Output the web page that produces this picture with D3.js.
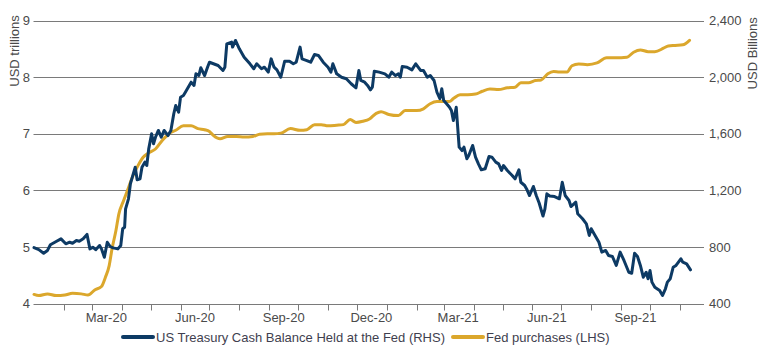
<!DOCTYPE html>
<html>
<head>
<meta charset="utf-8">
<script src="https://cdn.jsdelivr.net/npm/d3@7"></script>
<style>
  html, body { margin: 0; padding: 0; background: #fff; }
  svg text { font-family: "Liberation Sans", Arial, sans-serif; }
</style>
</head>
<body>
<svg id="chart" width="770" height="355"></svg>
<script>
// ---- Data ----
// US Treasury Cash Balance Held at the Fed (RHS, USD billions)
const tgaDates = [
  "2020-01-01","2020-01-06","2020-01-11","2020-01-15","2020-01-18","2020-01-24","2020-01-29",
  "2020-02-03","2020-02-07","2020-02-10","2020-02-14","2020-02-17","2020-02-21","2020-02-25","2020-02-28",
  "2020-03-02","2020-03-05","2020-03-09","2020-03-11","2020-03-14","2020-03-17","2020-03-20","2020-03-23","2020-03-28","2020-03-31",
  "2020-04-02","2020-04-04","2020-04-05","2020-04-08","2020-04-10","2020-04-12","2020-04-15","2020-04-17","2020-04-20","2020-04-22","2020-04-25","2020-04-27","2020-04-29",
  "2020-05-02","2020-05-04","2020-05-06","2020-05-09","2020-05-12","2020-05-15","2020-05-19","2020-05-22","2020-05-25","2020-05-27","2020-05-30",
  "2020-06-01","2020-06-04","2020-06-06","2020-06-09","2020-06-12","2020-06-15","2020-06-17","2020-06-20","2020-06-22","2020-06-26","2020-06-29",
  "2020-07-01","2020-07-10","2020-07-15","2020-07-17","2020-07-19","2020-07-24","2020-07-25","2020-07-28",
  "2020-08-01","2020-08-06","2020-08-12","2020-08-16","2020-08-19","2020-08-24","2020-08-27","2020-08-31",
  "2020-09-03","2020-09-06","2020-09-09","2020-09-13","2020-09-17","2020-09-22","2020-09-26","2020-09-29",
  "2020-10-03","2020-10-05","2020-10-10","2020-10-14","2020-10-18","2020-10-22","2020-10-27",
  "2020-11-01","2020-11-04","2020-11-06","2020-11-10","2020-11-15","2020-11-20","2020-11-25","2020-11-30",
  "2020-12-03","2020-12-05","2020-12-09","2020-12-12","2020-12-15","2020-12-17","2020-12-19","2020-12-24","2020-12-30",
  "2021-01-03","2021-01-06","2021-01-10","2021-01-13","2021-01-15","2021-01-17","2021-01-22","2021-01-27","2021-01-31",
  "2021-02-05","2021-02-08","2021-02-12","2021-02-15","2021-02-19","2021-02-22","2021-02-25","2021-02-27",
  "2021-03-01","2021-03-04","2021-03-07","2021-03-09","2021-03-11","2021-03-13","2021-03-14","2021-03-15","2021-03-17","2021-03-20","2021-03-22","2021-03-25","2021-03-27","2021-03-31",
  "2021-04-03","2021-04-06","2021-04-09","2021-04-13","2021-04-17","2021-04-20","2021-04-24","2021-04-27","2021-04-30",
  "2021-05-02","2021-05-06","2021-05-11","2021-05-14","2021-05-18","2021-05-20","2021-05-24","2021-05-26","2021-05-29",
  "2021-06-02","2021-06-05","2021-06-08","2021-06-12","2021-06-14","2021-06-16","2021-06-19","2021-06-24","2021-06-29",
  "2021-07-02","2021-07-05","2021-07-09","2021-07-11","2021-07-16","2021-07-18","2021-07-23","2021-07-27","2021-07-30",
  "2021-08-01","2021-08-05","2021-08-09","2021-08-12","2021-08-16","2021-08-19","2021-08-23","2021-08-27","2021-08-31",
  "2021-09-04","2021-09-09","2021-09-12","2021-09-15","2021-09-18","2021-09-21","2021-09-24","2021-09-27","2021-09-29",
  "2021-10-01","2021-10-03","2021-10-06","2021-10-11","2021-10-14","2021-10-17","2021-10-19","2021-10-22","2021-10-25","2021-10-28",
  "2021-11-02","2021-11-04","2021-11-08","2021-11-12"
];
const tgaValues = [
  795,781,755,775,815,838,857,
  822,833,826,845,840,857,888,786,
  798,780,810,786,727,833,803,793,786,810,
  928,939,1069,1140,1246,1293,1363,1274,1281,1363,1399,1375,1493,
  1599,1529,1575,1623,1575,1623,1587,1623,1741,1799,1752,
  1858,1870,1893,1929,1964,1941,2023,2011,2066,2011,2070,
  2105,2082,2047,2070,2235,2247,2212,2259,
  2200,2141,2094,2059,2094,2059,2070,2035,
  2129,2070,2051,1999,2112,2112,2094,2105,
  2212,2129,2117,2105,2160,2153,2105,
  2070,2035,2094,2023,1999,1988,1953,1924,
  2047,1976,1964,1941,1910,1929,2042,2035,2023,
  1999,2035,2011,2023,1999,2075,2070,2051,2094,
  2047,2047,1999,2011,1976,1893,1847,1917,
  1835,1811,1787,1764,1693,1752,1787,1693,1505,1481,1505,1423,1446,1517,
  1434,1387,1345,1352,1439,1434,1399,1387,1340,
  1375,1340,1305,1281,1345,1257,1234,1210,1163,
  1227,1163,1110,1018,1069,1175,1160,1156,1140,
  1257,1163,1128,1085,1116,1034,999,963,881,
  928,881,833,763,775,739,732,669,763,
  704,621,614,755,732,669,586,621,575,
  633,551,515,492,457,504,551,575,656,669,
  716,692,680,638
];

// Fed purchases (LHS, USD trillions)
const fedDates = [
  "2020-01-01","2020-01-06","2020-01-15","2020-01-24","2020-02-02","2020-02-10","2020-02-19","2020-02-26",
  "2020-03-04","2020-03-11","2020-03-15","2020-03-19","2020-03-22","2020-03-26","2020-03-29",
  "2020-04-03","2020-04-07","2020-04-12","2020-04-18","2020-04-23","2020-04-29",
  "2020-05-06","2020-05-13","2020-05-20","2020-05-27","2020-06-04","2020-06-12","2020-06-19","2020-06-26",
  "2020-07-01","2020-07-05","2020-07-12","2020-07-20","2020-07-29","2020-08-06","2020-08-15","2020-08-22","2020-08-30",
  "2020-09-06","2020-09-13","2020-09-23","2020-10-03","2020-10-10","2020-10-18","2020-10-25",
  "2020-11-01","2020-11-10","2020-11-17","2020-11-24","2020-11-30","2020-12-07","2020-12-14","2020-12-21","2020-12-26",
  "2021-01-03","2021-01-13","2021-01-20","2021-02-01","2021-02-08","2021-02-15","2021-02-22",
  "2021-03-01","2021-03-07","2021-03-11","2021-03-18","2021-03-26","2021-04-03","2021-04-10","2021-04-18","2021-04-27",
  "2021-05-06","2021-05-14","2021-05-20","2021-05-28","2021-06-04","2021-06-10","2021-06-17","2021-06-23","2021-06-29",
  "2021-07-07","2021-07-12","2021-07-19","2021-07-28","2021-08-07","2021-08-17","2021-08-26",
  "2021-09-07","2021-09-14","2021-09-21","2021-09-29","2021-10-06","2021-10-15","2021-10-20","2021-10-27",
  "2021-11-04","2021-11-11"
];
const fedValues = [
  4.16,4.14,4.17,4.14,4.15,4.18,4.17,4.15,
  4.24,4.30,4.46,4.67,4.97,5.29,5.58,
  5.82,6.00,6.23,6.44,6.58,6.66,
  6.73,6.88,7.00,7.06,7.14,7.14,7.09,7.07,
  7.04,6.97,6.91,6.95,6.95,6.94,6.95,6.99,7.00,
  7.00,7.01,7.09,7.06,7.07,7.16,7.16,
  7.14,7.15,7.16,7.25,7.20,7.22,7.26,7.36,7.39,
  7.34,7.32,7.41,7.41,7.44,7.53,7.57,
  7.57,7.57,7.62,7.69,7.69,7.70,7.75,7.79,7.78,
  7.81,7.82,7.90,7.90,7.94,7.95,8.06,8.10,8.09,
  8.09,8.20,8.23,8.22,8.25,8.34,8.34,
  8.35,8.44,8.48,8.45,8.45,8.51,8.55,8.56,
  8.57,8.65
];

const leftTicks = [4, 5, 6, 7, 8, 9];
const rightTicks = [400, 800, 1200, 1600, 2000, 2400];
const xLabelDates = ["2020-03-16", "2020-06-16", "2020-09-16", "2020-12-16", "2021-03-16", "2021-06-16", "2021-09-16"];
const xLabelTexts = ["Mar-20", "Jun-20", "Sep-20", "Dec-20", "Mar-21", "Jun-21", "Sep-21"];
const seriesNames = ["US Treasury Cash Balance Held at the Fed (RHS)", "Fed purchases (LHS)"];
const leftTitle = "USD trillions";
const rightTitle = "USD Billions";

// ---- Drawing ----
(function () {
const parse = d3.utcParse("%Y-%m-%d");
const BLUE = "#0d3a64";
const GOLD = "#dba72c";
const GRID = "#7a7a7a";
const TXT = "#4a4a4a";

const svg = d3.select("#chart");
const plotL = 34, plotR = 704, plotT = 20.5, plotB = 303.5;

const x = d3.scaleUtc()
  .domain([parse("2020-01-01"), parse("2021-11-26")])
  .range([plotL, plotR]);
const yL = d3.scaleLinear().domain([4, 9]).range([plotB, plotT]);
const yR = d3.scaleLinear().domain([400, 2400]).range([plotB, plotT]);

// gridlines
svg.append("g").selectAll("line").data(leftTicks).join("line")
  .attr("x1", plotL - 0.5).attr("x2", plotR)
  .attr("y1", d => Math.round(yL(d)) + 0.5).attr("y2", d => Math.round(yL(d)) + 0.5)
  .attr("stroke", GRID).attr("stroke-width", 1);

// month ticks on bottom axis
const months = d3.utcMonth.range(parse("2020-02-01"), parse("2021-11-02"));
svg.append("g").selectAll("line").data(months).join("line")
  .attr("x1", d => Math.round(x(d)) + 0.5).attr("x2", d => Math.round(x(d)) + 0.5)
  .attr("y1", Math.round(plotB) + 0.5).attr("y2", Math.round(plotB) + 6.5)
  .attr("stroke", GRID).attr("stroke-width", 1);

// x labels
svg.append("g").selectAll("text").data(xLabelDates).join("text")
  .attr("x", d => x(parse(d)))
  .attr("y", 322)
  .attr("text-anchor", "middle")
  .attr("font-size", 13)
  .attr("fill", TXT)
  .text((d, i) => xLabelTexts[i]);

// left labels
svg.append("g").selectAll("text").data(leftTicks).join("text")
  .attr("x", 30).attr("y", d => yL(d))
  .attr("dy", "0.36em")
  .attr("text-anchor", "end")
  .attr("font-size", 13).attr("fill", TXT)
  .text(d => d);

// right labels
const fmt = d3.format(",");
svg.append("g").selectAll("text").data(rightTicks).join("text")
  .attr("x", 709).attr("y", d => yR(d))
  .attr("dy", "0.36em")
  .attr("text-anchor", "start")
  .attr("font-size", 13).attr("fill", TXT)
  .text(d => fmt(d));

// axis titles
svg.append("text")
  .attr("transform", "translate(19.3,51) rotate(-90)")
  .attr("text-anchor", "middle")
  .attr("font-size", 13).attr("fill", TXT)
  .text(leftTitle);
svg.append("text")
  .attr("transform", "translate(757,53.3) rotate(-90)")
  .attr("text-anchor", "middle")
  .attr("font-size", 13).attr("fill", TXT)
  .text(rightTitle);

// lines
const fedData = fedDates.map((d, i) => ({ date: parse(d), v: fedValues[i] }));
const tgaData = tgaDates.map((d, i) => ({ date: parse(d), v: tgaValues[i] }));

svg.append("path").datum(fedData)
  .attr("fill", "none").attr("stroke", GOLD).attr("stroke-width", 3)
  .attr("stroke-linejoin", "round").attr("stroke-linecap", "round")
  .attr("d", d3.line().x(d => x(d.date)).y(d => yL(d.v)).curve(d3.curveMonotoneX));

svg.append("path").datum(tgaData)
  .attr("fill", "none").attr("stroke", BLUE).attr("stroke-width", 3)
  .attr("stroke-linejoin", "round").attr("stroke-linecap", "round")
  .attr("d", d3.line().x(d => x(d.date)).y(d => yR(d.v)));

// legend
const legend = svg.append("g");
const legItems = [
  { name: seriesNames[0], color: BLUE, x0: 123, x1: 153, tx: 156 },
  { name: seriesNames[1], color: GOLD, x0: 453, x1: 483, tx: 486 }
];
legItems.forEach(it => {
  legend.append("line")
    .attr("x1", it.x0).attr("x2", it.x1).attr("y1", 337).attr("y2", 337)
    .attr("stroke", it.color).attr("stroke-width", 4).attr("stroke-linecap", "round");
  legend.append("text")
    .attr("x", it.tx).attr("y", 337).attr("dy", "0.36em")
    .attr("font-size", 13).attr("fill", "#3f3f4f")
    .text(it.name);
});
})();
</script>
</body>
</html>
